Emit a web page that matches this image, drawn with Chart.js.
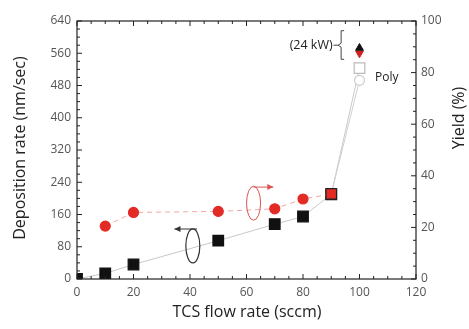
<!DOCTYPE html>
<html>
<head>
<meta charset="utf-8">
<script src="https://cdn.jsdelivr.net/npm/chart.js@4/dist/chart.umd.min.js"></script>
<style>
  html, body { margin: 0; padding: 0; background: #fff; }
  #wrap { width: 469px; height: 329px; }
</style>
</head>
<body>
<div id="wrap"><canvas id="chart" width="469" height="329"></canvas></div>
<script>
// flow rates (sccm)
const flowRates = [0, 10, 20, 50, 70, 80, 90, 100];
// deposition rate (nm/sec), last point is the open "Poly" square
const depositionRate = [0, 14, 36, 95, 136, 155, 210, 523];
// yield (%) at flow rates 10..100, last point is the open circle
const yieldFlow = [10, 20, 50, 70, 80, 90, 100];
const yieldValues = [20.5, 25.8, 26.2, 27.2, 31, 33, 77];
// 24 kW points at 100 sccm
const kw24Rate = 573;
const kw24Yield = 87.5;

const xTicks = [0, 20, 40, 60, 80, 100, 120];
const yTicks = [0, 80, 160, 240, 320, 400, 480, 560, 640];
const y2Ticks = [0, 20, 40, 60, 80, 100];

const FONT = "'Open Sans', 'DejaVu Sans', sans-serif";

const lastIdx = depositionRate.length - 1;
const lastYield = yieldValues.length - 1;

// inward ticks on all four borders + axis titles
const tickPlugin = {
    id: 'innerTicks',
    afterDraw(chart) {
        const ctx = chart.ctx;
        const a = chart.chartArea;
        const x = chart.scales.x, y = chart.scales.y, y2 = chart.scales.y2;
        ctx.save();
        ctx.strokeStyle = '#222';
        ctx.lineWidth = 1.2;
        ctx.strokeRect(a.left, a.top, a.right - a.left, a.bottom - a.top);
        ctx.lineWidth = 1;
        ctx.beginPath();
        for (let v = 0; v <= 120; v += 5) {
            const px = x.getPixelForValue(v);
            const len = v % 20 === 0 ? 5 : 3;
            ctx.moveTo(px, a.bottom); ctx.lineTo(px, a.bottom - len);
            ctx.moveTo(px, a.top); ctx.lineTo(px, a.top + len);
        }
        for (let v = 0; v <= 640; v += 20) {
            const py = y.getPixelForValue(v);
            const len = v % 80 === 0 ? 5 : 3;
            ctx.moveTo(a.left, py); ctx.lineTo(a.left + len, py);
        }
        for (let v = 0; v <= 100; v += 5) {
            const py = y2.getPixelForValue(v);
            const len = v % 20 === 0 ? 5 : 3;
            ctx.moveTo(a.right, py); ctx.lineTo(a.right - len, py);
        }
        ctx.stroke();

        // axis titles
        ctx.fillStyle = '#222';
        ctx.font = '16px ' + FONT;
        ctx.textAlign = 'center';
        ctx.textBaseline = 'middle';
        ctx.fillText('TCS flow rate (sccm)', 247, 312);
        ctx.save();
        ctx.translate(20, 148);
        ctx.rotate(-Math.PI / 2);
        ctx.fillText('Deposition rate (nm/sec)', 0, 0);
        ctx.restore();
        ctx.save();
        ctx.translate(459, 118);
        ctx.rotate(-Math.PI / 2);
        ctx.fillText('Yield (%)', 0, 0);
        ctx.restore();
        ctx.restore();
    }
};

// ellipses, arrows and labels
const notePlugin = {
    id: 'notes',
    afterDatasetsDraw(chart) {
        const ctx = chart.ctx;
        const x = chart.scales.x, y = chart.scales.y;
        const px = v => x.getPixelForValue(v);
        const py = v => y.getPixelForValue(v);
        ctx.save();

        function arrow(x1, y1, x2, y2, color) {
            ctx.strokeStyle = color;
            ctx.fillStyle = color;
            ctx.lineWidth = 1;
            ctx.beginPath();
            ctx.moveTo(x1, y1); ctx.lineTo(x2, y2);
            ctx.stroke();
            const dir = Math.sign(x2 - x1);
            ctx.beginPath();
            ctx.moveTo(x2, y2);
            ctx.lineTo(x2 - dir * 6, y2 - 3);
            ctx.lineTo(x2 - dir * 6, y2 + 3);
            ctx.closePath();
            ctx.fill();
        }

        // black ellipse + left arrow
        ctx.strokeStyle = '#333';
        ctx.lineWidth = 1.2;
        ctx.beginPath();
        ctx.ellipse(px(41), py(82), 7, 17, 0, 0, Math.PI * 2);
        ctx.stroke();
        arrow(px(42.5), py(124), px(34.5), py(124), '#333');

        // red ellipse + right arrow
        ctx.strokeStyle = '#d9534f';
        ctx.beginPath();
        ctx.ellipse(px(62.5), py(188), 7, 17, 0, 0, Math.PI * 2);
        ctx.stroke();
        arrow(px(62.5), py(228), px(69.5), py(228), '#d9534f');

        // (24 kW) label with bracket
        ctx.fillStyle = '#222';
        ctx.font = '12.5px ' + FONT;
        ctx.textAlign = 'right';
        ctx.textBaseline = 'middle';
        ctx.fillText('(24 kW)', px(90.5), py(580));
        ctx.strokeStyle = '#444';
        ctx.lineWidth = 1;
        const bx = px(93.5);
        const top = py(616), bot = py(545), mid = py(580);
        ctx.beginPath();
        ctx.moveTo(px(90.8), mid); ctx.lineTo(bx - 3, mid);
        ctx.moveTo(bx + 3, top); ctx.lineTo(bx, top); ctx.lineTo(bx, mid - 2);
        ctx.lineTo(bx - 3, mid); ctx.lineTo(bx, mid + 2); ctx.lineTo(bx, bot); ctx.lineTo(bx + 3, bot);
        ctx.stroke();

        // Poly label
        ctx.textAlign = 'left';
        ctx.font = '12px ' + FONT;
        ctx.fillText('Poly', px(105.5), py(500));
        ctx.restore();
    }
};

new Chart(document.getElementById('chart'), {
    type: 'scatter',
    data: {
        datasets: [
            {
                label: 'Yield',
                yAxisID: 'y2',
                data: yieldFlow.map((f, i) => ({ x: f, y: yieldValues[i] })),
                showLine: true,
                borderColor: '#f2a6a6',
                borderWidth: 1,
                borderDash: [5, 4],
                segment: {
                    borderColor: c => c.p1DataIndex === lastYield ? '#d0d0d0' : '#f2a6a6',
                    borderDash: c => c.p1DataIndex === lastYield ? [] : [5, 4]
                },
                pointStyle: yieldValues.map((v, i) => i === lastYield - 1 ? 'rect' : 'circle'),
                pointRadius: yieldValues.map((v, i) => i === lastYield ? 5 : (i === lastYield - 1 ? 7.5 : 5)),
                pointBackgroundColor: yieldValues.map((v, i) => i === lastYield ? '#fff' : '#e32b25'),
                pointBorderColor: yieldValues.map((v, i) => i === lastYield ? '#ccc' : (i === lastYield - 1 ? '#222' : '#e32b25')),
                pointBorderWidth: 1.2,
                order: 1
            },
            {
                label: 'Deposition rate',
                yAxisID: 'y',
                data: flowRates.map((f, i) => ({ x: f, y: depositionRate[i] })),
                showLine: true,
                borderColor: '#c8c8c8',
                borderWidth: 1,
                pointStyle: 'rect',
                pointRadius: 7.5,
                pointBackgroundColor: depositionRate.map((v, i) => i === lastIdx ? '#fff' : '#111'),
                pointBorderColor: depositionRate.map((v, i) => i === lastIdx ? '#bbb' : '#111'),
                pointBorderWidth: 1.2,
                order: 2
            },
            {
                label: '24 kW rate',
                yAxisID: 'y',
                data: [{ x: 100, y: kw24Rate }],
                pointStyle: 'triangle',
                pointRadius: 4.5,
                pointBackgroundColor: '#111',
                pointBorderColor: '#111'
            },
            {
                label: '24 kW yield',
                yAxisID: 'y2',
                data: [{ x: 100, y: kw24Yield }],
                pointStyle: 'triangle',
                rotation: 180,
                pointRadius: 4.5,
                pointBackgroundColor: '#d1201d',
                pointBorderColor: '#d1201d'
            }
        ]
    },
    options: {
        responsive: false,
        animation: false,
        layout: { padding: { top: 21, right: 0, left: 0, bottom: 0 } },
        plugins: { legend: { display: false }, tooltip: { enabled: false } },
        scales: {
            x: {
                type: 'linear',
                min: 0, max: 120,
                afterBuildTicks: s => { s.ticks = xTicks.map(v => ({ value: v })); },
                afterFit: s => { s.height = 50; },
                grid: { display: false, drawTicks: false },
                border: { display: false },
                ticks: { color: '#555', font: { family: FONT, size: 12 }, padding: 6 }
            },
            y: {
                position: 'left',
                min: 0, max: 640,
                afterBuildTicks: s => { s.ticks = yTicks.map(v => ({ value: v })); },
                afterFit: s => { s.width = 77; },
                grid: { display: false, drawTicks: false },
                border: { display: false },
                ticks: { color: '#555', font: { family: FONT, size: 12 }, padding: 6 }
            },
            y2: {
                position: 'right',
                min: 0, max: 100,
                afterBuildTicks: s => { s.ticks = y2Ticks.map(v => ({ value: v })); },
                afterFit: s => { s.width = 53; },
                grid: { display: false, drawTicks: false },
                border: { display: false },
                ticks: { color: '#555', font: { family: FONT, size: 12 }, padding: 5 }
            }
        }
    },
    plugins: [tickPlugin, notePlugin]
});
</script>
</body>
</html>
